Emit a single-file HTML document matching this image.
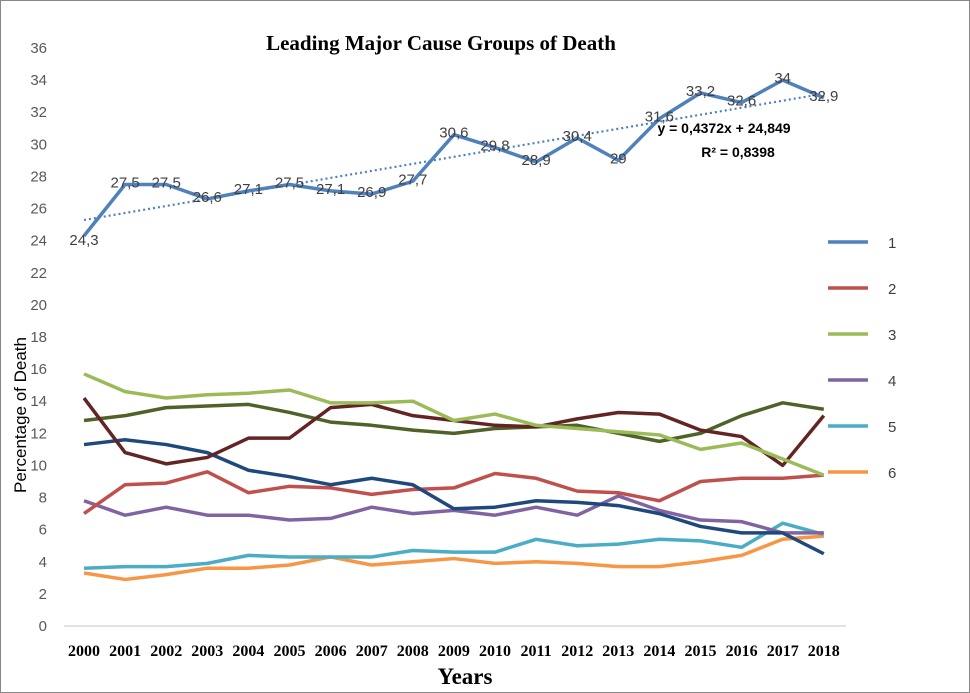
<!DOCTYPE html>
<html><head><meta charset="utf-8"><style>
body{margin:0;background:#fff}
svg{display:block}
text{font-family:"Liberation Sans",sans-serif}
</style></head><body>
<svg id="c" width="970" height="693" xmlns="http://www.w3.org/2000/svg">
<rect x="0.5" y="0.5" width="969" height="692" fill="#fff" stroke="#888"/>
<text x="441" y="50" text-anchor="middle" font-weight="bold" font-size="21" style="font-family:'Liberation Serif',serif">Leading Major Cause Groups of Death</text>
<text x="465" y="684" text-anchor="middle" font-weight="bold" font-size="23" style="font-family:'Liberation Serif',serif">Years</text>
<text transform="translate(26,415) rotate(-90)" text-anchor="middle" font-size="17">Percentage of Death</text>
<g id="g"></g>
</svg>
<script>
const years=[2000,2001,2002,2003,2004,2005,2006,2007,2008,2009,2010,2011,2012,2013,2014,2015,2016,2017,2018];
const yTicks=[0,2,4,6,8,10,12,14,16,18,20,22,24,26,28,30,32,34,36];
const s1=[24.3,27.5,27.5,26.6,27.1,27.5,27.1,26.9,27.7,30.6,29.8,28.9,30.4,29,31.6,33.2,32.6,34,32.9];
const s1Labels=["24,3","27,5","27,5","26,6","27,1","27,5","27,1","26,9","27,7","30,6","29,8","28,9","30,4","29","31,6","33,2","32,6","34","32,9"];
const s2=[7.0,8.8,8.9,9.6,8.3,8.7,8.6,8.2,8.5,8.6,9.5,9.2,8.4,8.3,7.8,9.0,9.2,9.2,9.4];
const s3=[15.7,14.6,14.2,14.4,14.5,14.7,13.9,13.9,14.0,12.8,13.2,12.5,12.3,12.1,11.9,11.0,11.4,10.4,9.4];
const s4=[7.8,6.9,7.4,6.9,6.9,6.6,6.7,7.4,7.0,7.2,6.9,7.4,6.9,8.1,7.2,6.6,6.5,5.8,5.8];
const s5=[3.6,3.7,3.7,3.9,4.4,4.3,4.3,4.3,4.7,4.6,4.6,5.4,5.0,5.1,5.4,5.3,4.9,6.4,5.7];
const s6=[3.3,2.9,3.2,3.6,3.6,3.8,4.3,3.8,4.0,4.2,3.9,4.0,3.9,3.7,3.7,4.0,4.4,5.4,5.6];
const s7=[11.3,11.6,11.3,10.8,9.7,9.3,8.8,9.2,8.8,7.3,7.4,7.8,7.7,7.5,7.0,6.2,5.8,5.8,4.5];
const s8=[14.2,10.8,10.1,10.5,11.7,11.7,13.6,13.8,13.1,12.8,12.5,12.4,12.9,13.3,13.2,12.2,11.8,10.0,13.1];
const s9=[12.8,13.1,13.6,13.7,13.8,13.3,12.7,12.5,12.2,12.0,12.3,12.4,12.5,12.0,11.5,12.0,13.1,13.9,13.5];
const trendSlope=0.4372, trendIntercept=24.849;
const NS="http://www.w3.org/2000/svg";
const g=document.getElementById('g');
const X=i=>84+i*41.1;
const Y=v=>626-v*(578/36);
function mk(t,a,p){const e=document.createElementNS(NS,t);for(const k in a)e.setAttribute(k,a[k]);(p||g).appendChild(e);return e;}
let e=mk('line',{x1:64,x2:846,y1:626,y2:626,stroke:'#d9d9d9','stroke-width':1.5});


yTicks.forEach(t=>{const el=mk('text',{x:47,y:Y(t)+5,'text-anchor':'end','font-size':15,fill:'#595959'});el.textContent=t;

});
years.forEach((yr,i)=>{const el=mk('text',{x:X(i),y:656,'text-anchor':'middle','font-size':16,'font-weight':'bold',style:"font-family:'Liberation Serif',serif"});el.textContent=yr;

});
function line(arr,col,name){const p=mk('polyline',{points:arr.map((v,i)=>X(i)+','+Y(v)).join(' '),fill:'none',stroke:col,'stroke-width':3.5,'stroke-linejoin':'round'});

}
line(s6,'#F79646','series-6-line');
line(s5,'#4BACC6','series-5-line');
line(s4,'#8064A2','series-4-line');
line(s2,'#C0504D','series-2-line');
line(s7,'#1F497D','series-7-line');
line(s9,'#4F6228','series-9-line');
line(s8,'#632523','series-8-line');
line(s3,'#9BBB59','series-3-line');
line(s1,'#4F81BD','series-1-line');
const tr=mk('line',{x1:X(0),y1:Y(trendSlope*1+trendIntercept),x2:X(18),y2:Y(trendSlope*19+trendIntercept),stroke:'#4F81BD','stroke-width':2.2,'stroke-dasharray':'2,3'});


s1.forEach((v,i)=>{const el=mk('text',{x:X(i),y:Y(v)+(i==0?9:3),'text-anchor':'middle','font-size':15,fill:'#404040'});el.textContent=s1Labels[i];

});
let eq=mk('text',{x:724,y:133,'text-anchor':'middle','font-size':14,'font-weight':'bold'});eq.textContent='y = 0,4372x + 24,849';


let r2=mk('text',{x:738,y:157,'text-anchor':'middle','font-size':14,'font-weight':'bold'});r2.textContent='R² = 0,8398';


const legNames=['1','2','3','4','5','6'];
const legCols=['#4F81BD','#C0504D','#9BBB59','#8064A2','#4BACC6','#F79646'];
legNames.forEach((n,i)=>{const y=242+i*46;
const l=mk('line',{x1:828,x2:868,y1:y,y2:y,stroke:legCols[i],'stroke-width':3.5});


const t=mk('text',{x:888,y:y+6,'font-size':15,fill:'#404040'});t.textContent=n;

});
</script>
</body></html>
